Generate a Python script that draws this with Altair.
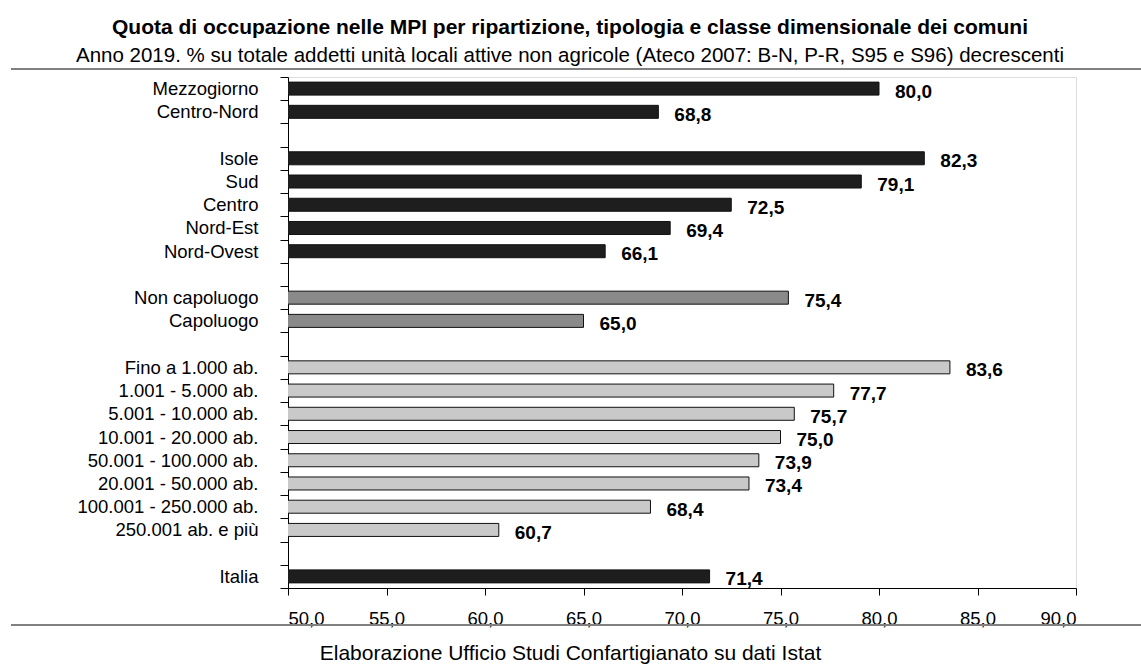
import altair as alt
import pandas as pd

# Categories in display order; blank entries are spacer rows between groups
slots = [
    "Mezzogiorno", "Centro-Nord", " ",
    "Isole", "Sud", "Centro", "Nord-Est", "Nord-Ovest", "  ",
    "Non capoluogo", "Capoluogo", "   ",
    "Fino a 1.000 ab.", "1.001 - 5.000 ab.", "5.001 - 10.000 ab.",
    "10.001 - 20.000 ab.", "50.001 - 100.000 ab.", "20.001 - 50.000 ab.",
    "100.001 - 250.000 ab.", "250.001 ab. e più", "    ",
    "Italia",
]

categories = [
    "Mezzogiorno", "Centro-Nord",
    "Isole", "Sud", "Centro", "Nord-Est", "Nord-Ovest",
    "Non capoluogo", "Capoluogo",
    "Fino a 1.000 ab.", "1.001 - 5.000 ab.", "5.001 - 10.000 ab.",
    "10.001 - 20.000 ab.", "50.001 - 100.000 ab.", "20.001 - 50.000 ab.",
    "100.001 - 250.000 ab.", "250.001 ab. e più",
    "Italia",
]
values = [
    80.0, 68.8,
    82.3, 79.1, 72.5, 69.4, 66.1,
    75.4, 65.0,
    83.6, 77.7, 75.7, 75.0, 73.9, 73.4, 68.4, 60.7,
    71.4,
]
groups = (["ripartizione"] * 7 + ["tipologia"] * 2 + ["classe"] * 8 + ["totale"])

group_names = ["ripartizione", "tipologia", "classe", "totale"]
group_colors = ["#1e1e1e", "#8a8a8a", "#c9c9c9", "#1e1e1e"]

df = pd.DataFrame({"categoria": categories, "quota": values, "gruppo": groups})

FONT = "'Liberation Sans Narrow', 'Arial Narrow', 'Liberation Sans', Arial, sans-serif"

y_enc = alt.Y(
    "categoria:N",
    sort=slots,
    scale=alt.Scale(domain=slots, paddingInner=0, paddingOuter=0),
    axis=alt.Axis(
        title=None,
        tickBand="extent",
        tickSize=8,
        tickColor="#000000",
        domainColor="#000000",
        labelPadding=22,
        labelFontSize=18.5,
        labelFont=FONT,
        labelColor="#000000",
        labelLimit=400,
        grid=False,
    ),
)

x_enc = alt.X(
    "quota:Q",
    scale=alt.Scale(domain=[50, 90], nice=False, zero=False),
    axis=alt.Axis(
        values=[50, 55, 60, 65, 70, 75, 80, 85, 90],
        labelExpr="replace(format(datum.value, '.1f'), '.', ',')",
        tickSize=7,
        tickColor="#000000",
        domainColor="#000000",
        labelPadding=14,
        labelFontSize=18.5,
        labelFont=FONT,
        labelColor="#000000",
        grid=False,
        title="Elaborazione Ufficio Studi Confartigianato su dati Istat",
        titleFont=FONT,
        titleFontSize=21,
        titleFontWeight="normal",
        titleColor="#000000",
        titleX=282,
        titleY=71,
        titleBaseline="alphabetic",
        titleAnchor="middle",
    ),
)

bars = alt.Chart(df).mark_bar(
    size=13, stroke="#111111", strokeWidth=1, clip=True
).encode(
    x=x_enc,
    y=y_enc,
    color=alt.Color(
        "gruppo:N",
        scale=alt.Scale(domain=group_names, range=group_colors),
        legend=None,
    ),
)

labels = alt.Chart(df).transform_calculate(
    etichetta="replace(format(datum.quota, '.1f'), '.', ',')"
).mark_text(
    align="left", baseline="middle", dx=16, dy=3,
    fontSize=19, fontWeight="bold", font=FONT, color="#000000",
).encode(
    x="quota:Q",
    y=alt.Y("categoria:N", sort=slots),
    text="etichetta:N",
)

# Separator rules above the plot and above the source note
rule_df = pd.DataFrame({"pos": ["top", "bottom"]})
top_rule = alt.Chart(rule_df).transform_filter("datum.pos == 'top'").mark_rule(
    color="#808080", strokeWidth=2
).encode(x=alt.value(-277), x2=alt.value(853), y=alt.value(-8))
bottom_rule = alt.Chart(rule_df).transform_filter("datum.pos == 'bottom'").mark_rule(
    color="#808080", strokeWidth=2
).encode(x=alt.value(-277), x2=alt.value(853), y=alt.value(548))

chart = alt.layer(bars, labels, top_rule, bottom_rule).properties(
    width=788,
    height=511,
    padding={"left": 288, "top": 77, "right": 65, "bottom": 78},
    autosize=alt.AutoSizeParams(type="none"),
    title=alt.TitleParams(
        text="Quota di occupazione nelle MPI per ripartizione, tipologia e classe dimensionale dei comuni",
        subtitle="Anno 2019. % su totale addetti unità locali attive non agricole (Ateco 2007: B-N, P-R, S95 e S96) decrescenti",
        font=FONT,
        fontSize=21,
        fontWeight="bold",
        color="#000000",
        subtitleFont=FONT,
        subtitleFontSize=20.5,
        subtitleColor="#000000",
        subtitlePadding=8,
        anchor="middle",
        frame="group",
        dx=-112,
        offset=2,
    ),
).configure_view(stroke=None).configure(background="#ffffff")

chart.save("out.html", embed_options={"renderer": "svg", "actions": False})
